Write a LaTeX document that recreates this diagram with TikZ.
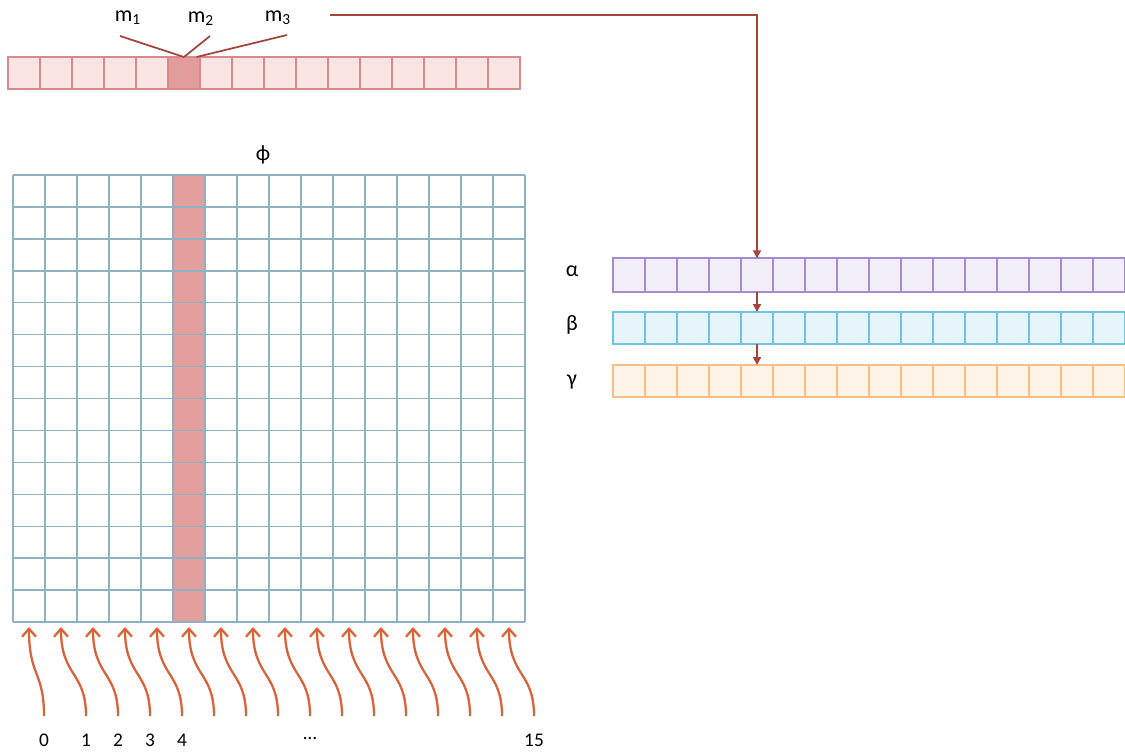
\documentclass[tikz,border=0pt]{standalone}
\usepackage{fontspec}
\setmainfont{Carlito}
\usetikzlibrary{arrows.meta}

\definecolor{stripfill}{HTML}{FBE4E4}
\definecolor{stripline}{HTML}{D98A8A}
\definecolor{striphi}{HTML}{E29C9C}
\definecolor{gridline}{HTML}{8FB1C2}
\definecolor{gridhi}{HTML}{E39E9E}
\definecolor{connred}{HTML}{A3443D}
\definecolor{feedred}{HTML}{D8633D}
\definecolor{alphafill}{HTML}{F3EFF8}
\definecolor{alphaline}{HTML}{A48BCB}
\definecolor{betafill}{HTML}{E7F5FB}
\definecolor{betaline}{HTML}{6CC7E3}
\definecolor{gammafill}{HTML}{FEF4E7}
\definecolor{gammaline}{HTML}{F8BE86}

\begin{document}
\begin{tikzpicture}[x=0.02cm, y=-0.02cm, every node/.style={font=\fontsize{12.5}{14}\selectfont},
	cell/.style={draw, minimum width=0.64cm, minimum height=0.64cm, inner sep=0pt, outer sep=0pt, line width=0.9pt},
	tcell/.style={cell, draw=stripline, fill=stripfill},
	acell/.style={cell, minimum height=0.67cm, draw=alphaline, fill=alphafill},
	bcell/.style={cell, draw=betaline, fill=betafill},
	gcell/.style={cell, draw=gammaline, fill=gammafill},
	conn/.style={connred, line width=1.2pt, -{Triangle[length=1.6mm, width=1.6mm]}},
	feed/.style={feedred, line width=1.3pt, -{Straight Barb[length=1.6mm, width=2.8mm]}},
	numlabel/.style={font=\fontsize{11}{13}\selectfont}]
	\useasboundingbox (0,0) rectangle (1125,751);
	% index strip
	\foreach \i in {0,...,15}
		\node[tcell] (t\i) at (24+32*\i,73) {};
	\fill[striphi, draw=stripline, line width=0.9pt] (t5.south west) rectangle (t5.north east);
	\node (m1) at (128,18) {m\textsubscript{1}};
	\node (m2) at (201,19) {m\textsubscript{2}};
	\node (m3) at (278,18) {m\textsubscript{3}};
	\coordinate (m1foot) at (120,36);
	\coordinate (m2foot) at (210,36);
	\coordinate (m3foot) at (287,35);
	\draw[connred, line width=1pt] (m1foot) -- (t5.north);
	\draw[connred, line width=1pt] (m2foot) -- (t5.north);
	\draw[connred, line width=1pt] (m3foot) -- ([xshift=-2pt]t5.north east);
	% phi matrix
	\node (phi) at (263,155) {ϕ};
	\fill[gridhi] (173,175) rectangle (205,622);
	\foreach \i in {0,...,16}
		\draw[gridline, line width=0.8pt] (13+32*\i,175) -- (13+32*\i,622);
	\foreach \j in {0,...,14}
		\draw[gridline, line width=0.8pt] (13,175+31.93*\j) -- (525,175+31.93*\j);
	% alpha, beta, gamma
	\node (alpha) at (572,271) {α};
	\node (beta) at (572,325) {β};
	\node (gamma) at (572,382) {γ};
	\foreach \i in {0,...,15} {
		\node[acell] (a\i) at (629+32*\i,275) {};
		\node[bcell] (b\i) at (629+32*\i,328) {};
		\node[gcell] (g\i) at (629+32*\i,381) {};
	}
	\coordinate (src) at (330,15);
	\draw[conn] (src) -| (a4.north);
	\draw[conn] (a4.south) -- (b4.north);
	\draw[conn] (b4.south) -- (g4.north);
	% inputs
	\foreach \i in {0,...,15}
		\coordinate (c\i) at (29+32*\i,627);
	\coordinate (s0) at (44,716);
	\foreach \i in {1,...,15}
		\coordinate (s\i) at (54+32*\i,716);
	\foreach \i in {0,...,15}
		\draw[feed] (s\i) .. controls +(0,-45) and +(0,50) .. (c\i);
	\foreach \n/\x in {0/44,1/86,2/118,3/150,4/182,15/534}
		\node[numlabel] (n\n) at (\x,740) {\n};
	\node[numlabel] (ndots) at (310,738) {\ldots};
\end{tikzpicture}
\end{document}
